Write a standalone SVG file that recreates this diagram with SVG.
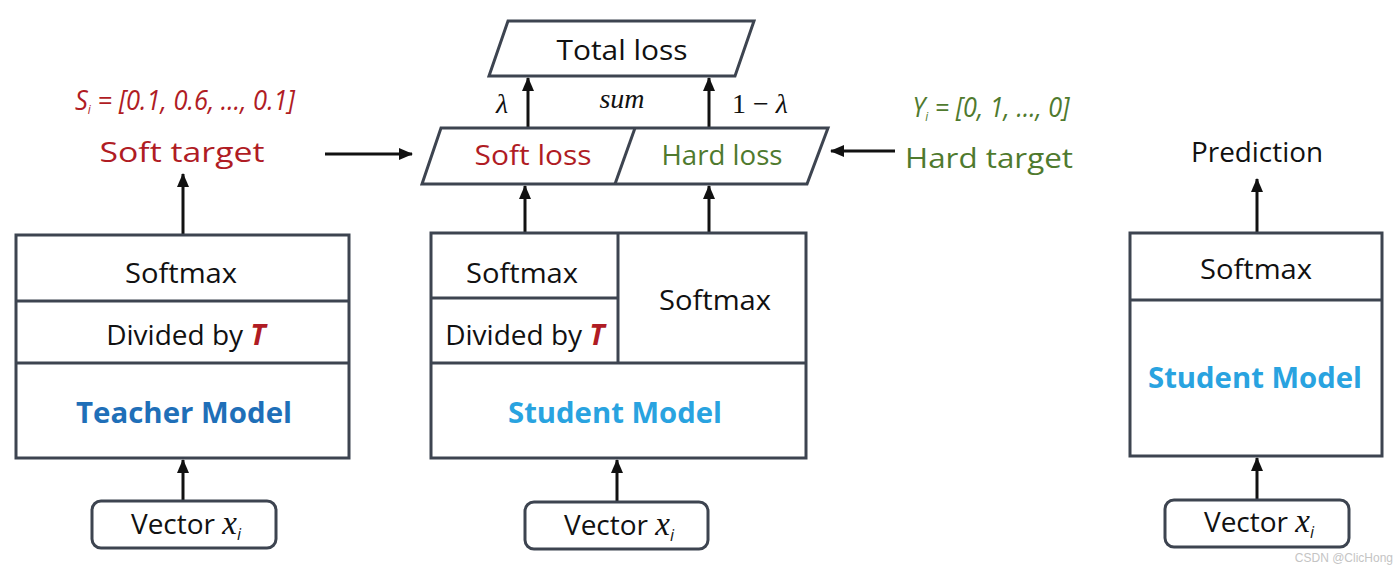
<svg xmlns="http://www.w3.org/2000/svg" width="1400" height="569" viewBox="0 0 1400 569">
<defs>
<marker id="ah" markerUnits="userSpaceOnUse" markerWidth="15" markerHeight="15" refX="13" refY="7.5" orient="auto">
<path d="M0,1.5 L14,7.5 L0,13.5 z" fill="#111"/>
</marker>
<style>
.box{fill:#fff;stroke:#3d4450;stroke-width:3}
.ln{fill:none;stroke:#3d4450;stroke-width:3}
.t{font-family:"Open Sans","Liberation Sans",sans-serif;font-size:28px;fill:#111;text-anchor:middle}
.b{font-weight:bold;font-size:29px}
.red{fill:#b01c24}
.grn{fill:#4f7a2e}
.tblue{fill:#1f6fb8}
.sblue{fill:#29a3e0}
.it{font-style:italic}
.m{font-family:"Liberation Serif","DejaVu Serif",serif;font-size:28px;fill:#111;text-anchor:middle}
.c{stroke:#111;stroke-width:3;fill:none;marker-end:url(#ah)}
</style>
</defs>
<rect width="1400" height="569" fill="#fff"/>

<g id="connectors">
<line class="c" x1="183" y1="500" x2="183" y2="460"/>
<line class="c" x1="183" y1="235" x2="183" y2="174"/>
<line class="c" x1="325" y1="154" x2="412" y2="154"/>
<line class="c" x1="895" y1="151" x2="831" y2="151"/>
<line class="c" x1="617" y1="501" x2="617" y2="460"/>
<line class="c" x1="525" y1="233" x2="525" y2="186"/>
<line class="c" x1="709" y1="233" x2="709" y2="186"/>
<line class="c" x1="528" y1="128" x2="528" y2="78"/>
<line class="c" x1="709" y1="128" x2="709" y2="78"/>
<line class="c" x1="1257" y1="499" x2="1257" y2="458"/>
<line class="c" x1="1257" y1="233" x2="1257" y2="179"/>
</g>

<g id="teacher">
<rect class="box" x="16" y="235" width="333" height="223"/>
<line class="ln" x1="16" y1="301" x2="349" y2="301"/>
<line class="ln" x1="16" y1="363" x2="349" y2="363"/>
<text class="t" x="181" y="283" textLength="112" lengthAdjust="spacingAndGlyphs">Softmax</text>
<text class="t" x="186" y="345">Divided by <tspan class="red it b">T</tspan></text>
<text class="t b tblue" x="184" y="423" textLength="216" lengthAdjust="spacingAndGlyphs">Teacher Model</text>
</g>

<g id="teacher-input">
<rect class="box" x="92" y="501" width="184" height="47" rx="9"/>
<text class="t" x="186" y="534" font-size="31">Vector <tspan class="it" font-family="Liberation Serif,serif" font-size="33">x</tspan><tspan class="it" font-size="16" dy="6">i</tspan></text>
</g>

<g id="soft-target">
<text class="t red it" x="185" y="110" font-size="21" textLength="220" lengthAdjust="spacingAndGlyphs">S<tspan font-size="13" dy="4">i</tspan><tspan dy="-4"> = [0.1, 0.6, …, 0.1]</tspan></text>
<text class="t red" x="182" y="162" textLength="165" lengthAdjust="spacingAndGlyphs">Soft target</text>
</g>

<g id="losses">
<polygon class="box" points="441,128 828,128 807,184 422,184"/>
<line class="ln" x1="635" y1="128" x2="615" y2="184"/>
<text class="t red" x="533" y="165" textLength="117" lengthAdjust="spacingAndGlyphs">Soft loss</text>
<text class="t grn" x="722" y="165" textLength="121" lengthAdjust="spacingAndGlyphs">Hard loss</text>
</g>

<g id="total-loss">
<polygon class="box" points="508,21 754,21 735,76 489,76"/>
<text class="t" x="622" y="60" textLength="131" lengthAdjust="spacingAndGlyphs">Total loss</text>
</g>

<g id="weights">
<text class="m it" x="502" y="113">λ</text>
<text class="m it" x="622" y="108">sum</text>
<text class="m" x="760" y="113">1 − <tspan class="it">λ</tspan></text>
</g>

<g id="hard-target">
<text class="t grn it" x="991" y="117" font-size="21" textLength="157" lengthAdjust="spacingAndGlyphs">Y<tspan font-size="13" dy="4">i</tspan><tspan dy="-4"> = [0, 1, …, 0]</tspan></text>
<text class="t grn" x="989" y="168" textLength="168" lengthAdjust="spacingAndGlyphs">Hard target</text>
</g>

<g id="student">
<rect class="box" x="431" y="233" width="375" height="225"/>
<line class="ln" x1="618" y1="233" x2="618" y2="363"/>
<line class="ln" x1="431" y1="298" x2="618" y2="298"/>
<line class="ln" x1="431" y1="363" x2="806" y2="363"/>
<text class="t" x="522" y="283" textLength="112" lengthAdjust="spacingAndGlyphs">Softmax</text>
<text class="t" x="525" y="345">Divided by <tspan class="red it b">T</tspan></text>
<text class="t" x="715" y="310" textLength="112" lengthAdjust="spacingAndGlyphs">Softmax</text>
<text class="t b sblue" x="615" y="423" textLength="214" lengthAdjust="spacingAndGlyphs">Student Model</text>
</g>

<g id="student-input">
<rect class="box" x="525" y="502" width="183" height="47" rx="9"/>
<text class="t" x="619" y="535" font-size="31">Vector <tspan class="it" font-family="Liberation Serif,serif" font-size="33">x</tspan><tspan class="it" font-size="16" dy="6">i</tspan></text>
</g>

<g id="student-deploy">
<rect class="box" x="1130" y="233" width="252" height="223"/>
<line class="ln" x1="1130" y1="300" x2="1382" y2="300"/>
<text class="t" x="1256" y="279" textLength="112" lengthAdjust="spacingAndGlyphs">Softmax</text>
<text class="t b sblue" x="1255" y="388" textLength="214" lengthAdjust="spacingAndGlyphs">Student Model</text>
</g>

<g id="prediction">
<text class="t" x="1257" y="162" textLength="132" lengthAdjust="spacingAndGlyphs">Prediction</text>
</g>

<g id="deploy-input">
<rect class="box" x="1165" y="500" width="184" height="47" rx="9"/>
<text class="t" x="1259" y="532" font-size="31">Vector <tspan class="it" font-family="Liberation Serif,serif" font-size="33">x</tspan><tspan class="it" font-size="16" dy="6">i</tspan></text>
</g>

<text x="1393" y="562" font-family="Liberation Sans,sans-serif" font-size="12" fill="#c4c4c4" text-anchor="end">CSDN @ClicHong</text>
</svg>
